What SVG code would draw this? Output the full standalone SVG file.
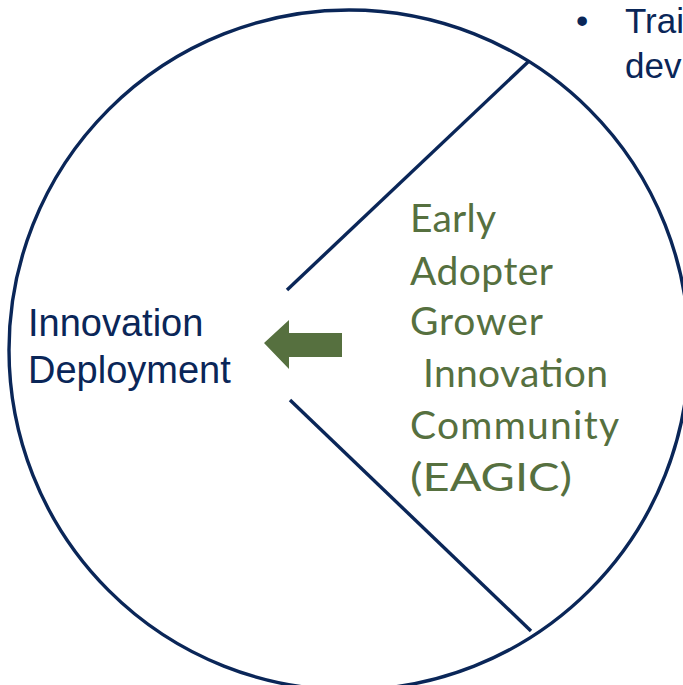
<svg xmlns="http://www.w3.org/2000/svg" width="683" height="685" viewBox="0 0 683 685">
<style>
.navy{stroke:#0a2658;stroke-width:3.4;fill:none}
.lbl{font-family:"Liberation Sans",Arial,sans-serif;fill:#0a2658}
.grn{font-family:Lato,"Liberation Sans",sans-serif;fill:#56703f;font-size:39px}
</style>
<rect width="683" height="685" fill="#ffffff"/>
<g id="circle">
<circle class="navy" cx="349" cy="350" r="340"/>
</g>
<g id="connectors">
<line class="navy" x1="287" y1="290" x2="528" y2="62"/>
<line class="navy" x1="290" y1="400" x2="531" y2="631"/>
<polygon id="arrow" points="264,343 289,320 289,333 342,333 342,357 289,357 289,369" fill="#56703f"/>
</g>
<g id="deployment">
<text class="lbl" font-size="38" x="28" y="336">Innovation</text>
<text class="lbl" font-size="38" x="28" y="383">Deployment</text>
</g>
<g id="eagic">
<text class="grn" x="410" y="232" textLength="86" lengthAdjust="spacing">Early</text>
<text class="grn" x="410" y="285" textLength="143" lengthAdjust="spacing">Adopter</text>
<text class="grn" x="410" y="335" textLength="133" lengthAdjust="spacing">Grower</text>
<text class="grn" x="423" y="387" textLength="185" lengthAdjust="spacing">Innovation</text>
<text class="grn" x="410" y="439" textLength="209" lengthAdjust="spacing">Community</text>
<text class="grn" x="410" y="491" textLength="162" lengthAdjust="spacingAndGlyphs">(EAGIC)</text>
</g>
<g id="bullet">
<text class="lbl" font-size="35" x="576" y="33">•</text>
<text class="lbl" font-size="35" x="625" y="33">Trai</text>
<text class="lbl" font-size="35" x="625" y="78">dev</text>
</g>
</svg>
